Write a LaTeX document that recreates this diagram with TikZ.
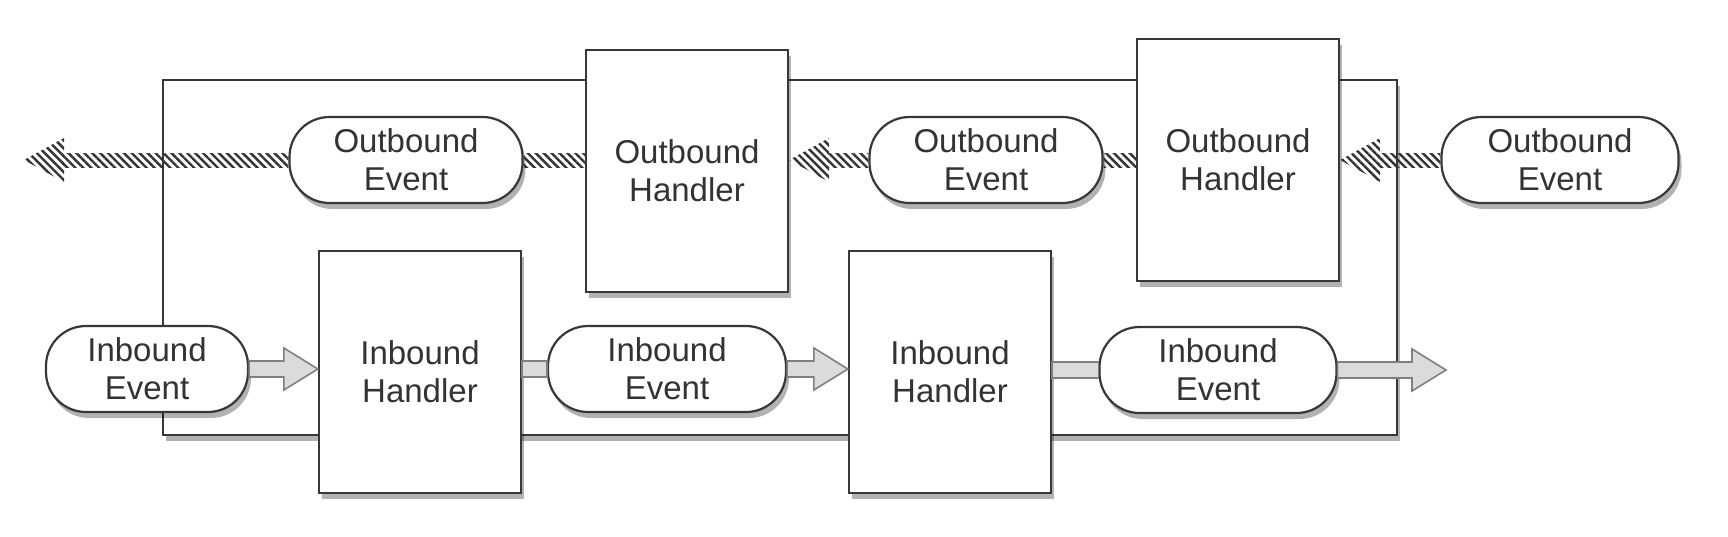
\documentclass[tikz,border=0pt]{standalone}
\usepackage{fontspec}
\setmainfont{Liberation Sans}
\usetikzlibrary{calc,shadows,patterns.meta}
\begin{document}
\begin{tikzpicture}[x=0.5pt,y=-0.5pt,
  border/.style={draw=black!78, line width=1.1pt},
  shad/.style={drop shadow={shadow xshift=1.5pt, shadow yshift=-3pt, opacity=0.3, fill=black}},
  lbl/.style={align=center, font=\fontsize{16.5}{19}\selectfont, text=black!80, inner sep=0pt},
  handler/.style={border, fill=white, shad, lbl, minimum width=101pt, minimum height=121pt},
  event/.style={border, fill=white, shad, lbl, rounded corners=20pt, minimum height=43pt},
  fatarr/.style={draw=black!50, fill=black!14, line width=0.8pt, line join=miter},
  hatch/.style={pattern={Lines[angle=-45,distance=2.8pt,line width=1.2pt]}, pattern color=black!80},
]
\useasboundingbox (0,0) rectangle (1728,536);
% left-to-right fat arrow with head; tip at x of #2, y of #1
\newcommand\fatarrow[2]{\coordinate (t) at (#2 |- #1);
  \draw[fatarr] ($(#1)+(0,-8)$) -- ($(t)+(-34,-8)$) -- ($(t)+(-34,-21)$) -- (t) -- ($(t)+(-34,21)$) -- ($(t)+(-34,8)$) -- ($(#1)+(0,8)$) -- cycle;}
\newcommand\fatbar[2]{\coordinate (t) at (#1 |- #2);
  \draw[fatarr] ($(t)+(0,-8)$) rectangle ($(#2)+(0,8)$);}
% right-to-left hatched arrow with head; tip at x of #2, y of #1
\newcommand\hatcharrow[2]{\coordinate (t) at (#2 |- #1);
  \path[hatch] ($(#1)+(0,-7)$) rectangle ($(t)+(38,7)$);
  \path[hatch] (t) -- ($(t)+(40,-22)$) -- ($(t)+(40,22)$) -- cycle;}
\newcommand\hatchbar[2]{\coordinate (t) at (#1 |- #2);
  \path[hatch] ($(t)+(0,-7)$) rectangle ($(#2)+(0,7)$);}

% frame
\node[border, fill=white, shad, minimum width=617pt, minimum height=177.5pt, inner sep=0pt] (frame) at (780,257.5) {};

% handlers
\node[handler] (oh1) at (687,171) {Outbound\\Handler};
\node[handler] (oh2) at (1238,160) {Outbound\\Handler};
\node[handler] (ih1) at (420,372) {Inbound\\Handler};
\node[handler] (ih2) at (950,372) {Inbound\\Handler};

% events
\node[event, minimum width=116.5pt] (oe1) at (406,160) {Outbound\\Event};
\node[event, minimum width=116.5pt] (oe2) at (986,160) {Outbound\\Event};
\node[event, minimum width=118.5pt] (oe3) at (1560,160) {Outbound\\Event};
\node[event, minimum width=101pt] (ie1) at (147,369) {Inbound\\Event};
\node[event, minimum width=119pt] (ie2) at (667,369) {Inbound\\Event};
\node[event, minimum width=118.5pt] (ie3) at (1218,370) {Inbound\\Event};

\coordinate (ltip) at (24,160);
\coordinate (rtip) at (1446,370);

% outbound (hatched) connectors
\hatcharrow{oe1.west}{ltip}
\hatchbar{oh1.west}{oe1.east}
\hatcharrow{oe2.west}{oh1.east}
\hatchbar{oh2.west}{oe2.east}
\hatcharrow{oe3.west}{oh2.east}

% inbound (gray) connectors
\fatarrow{ie1.east}{ih1.west}
\fatbar{ih1.east}{ie2.west}
\fatarrow{ie2.east}{ih2.west}
\fatbar{ih2.east}{ie3.west}
\fatarrow{ie3.east}{rtip}
\end{tikzpicture}
\end{document}
